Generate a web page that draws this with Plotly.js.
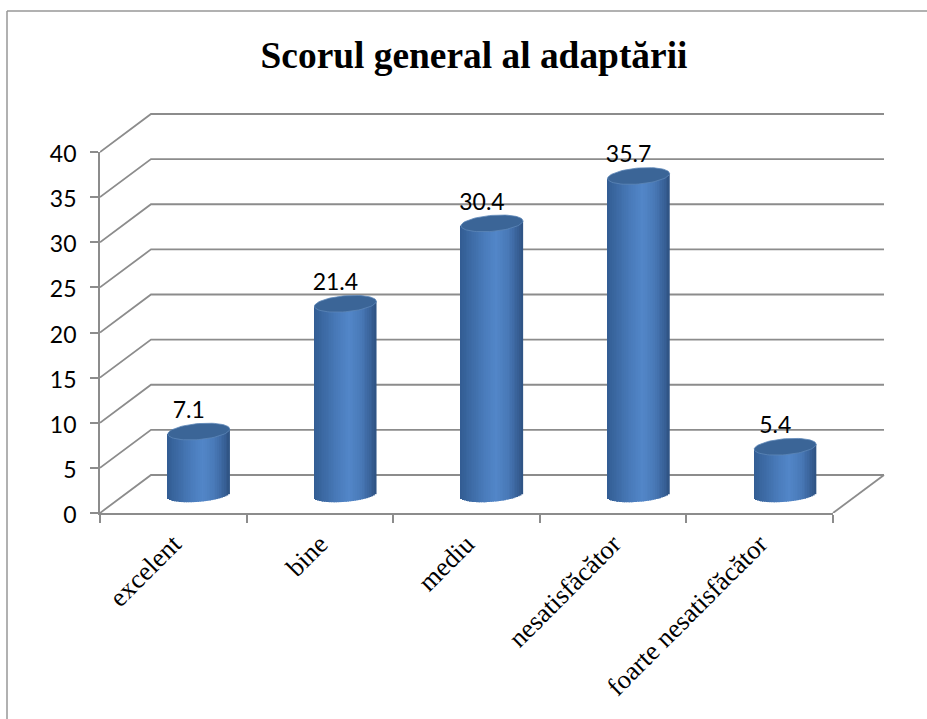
<!DOCTYPE html>
<html>
<head>
<meta charset="utf-8">
<script src="https://cdn.plot.ly/plotly-3.0.1.min.js"></script>
<style>html,body{margin:0;padding:0;background:#fff}#c{width:927px;height:719px}</style>
</head>
<body>
<div id="c"></div>
<script>
const categories = ["excelent", "bine", "mediu", "nesatisfăcător", "foarte nesatisfăcător"];
const values = [7.1, 21.4, 30.4, 35.7, 5.4];
const valueLabels = ["7.1", "21.4", "30.4", "35.7", "5.4"];
const yTicks = [0, 5, 10, 15, 20, 25, 30, 35, 40];
const xEdges = [0, 1, 2, 3, 4, 5];
const titleText = "Scorul general al adaptării";

// chart geometry
const W = 927, H = 719, L = 100, T = 113, R = 885, B = 513;
const frontRight = 833, frontTop = 152, depthX = 51, depthY = 38;
const pw = R - L, ph = B - T;
const uX = (frontRight - L) / 5, uY = (B - frontTop) / 40;
const dX = depthX / uX, dY = depthY / uY;
const hw = 31 / uX;
const tilt = 2.5 / uY, eb = 8 / uY, floorY = 18 / uY, heightScale = 0.99;
const N = 36;
const gridColor = "#8c8c8c";

const stops = [[-1, [50, 92, 146]], [-0.75, [58, 103, 160]], [-0.2, [74, 124, 188]], [0.15, [82, 134, 200]], [0.55, [72, 120, 182]], [0.85, [56, 96, 150]], [1, [46, 82, 130]]];
function shade(u) {
  for (let i = 1; i < stops.length; i++) {
    if (u <= stops[i][0]) {
      const a = stops[i - 1], b = stops[i], t = (u - a[0]) / (b[0] - a[0]);
      return "rgb(" + a[1].map((c, k) => Math.round(c + (b[1][k] - c) * t)).join(",") + ")";
    }
  }
  return "rgb(46,82,130)";
}

const barX = [], barBase = [], barY = [], barC = [];
values.forEach((v, i) => {
  const c = i + 0.5 + dX / 2;
  const top = floorY + v * heightScale;
  for (let k = 0; k < N; k++) {
    const u = -1 + (2 * k + 1) / N;
    const arc = Math.sqrt(1 - u * u);
    const lo = floorY + tilt * u - eb * 0.85 * arc;
    const hi = top + tilt * u;
    barX.push(c + u * hw);
    barBase.push(lo);
    barY.push(hi - lo);
    barC.push(shade(u));
  }
});

const traces = [];

// walls: back gridlines, side diagonals and floor edge, on a subplot drawn beneath the cylinders
const wx = [], wy = [];
yTicks.forEach(v => { wx.push(0, dX, 5 + dX, null); wy.push(v, v + dY, v + dY, null); });
wx.push(5, 5 + dX); wy.push(0, dY);
traces.push({x: wx, y: wy, xaxis: "x", yaxis: "y", mode: "lines", line: {color: gridColor, width: 1.8}, cliponaxis: false, hoverinfo: "skip", showlegend: false});

// cylinders
traces.push({type: "bar", x: barX, base: barBase, y: barY, width: 2 * hw / N * 1.15, xaxis: "x2", yaxis: "y2",
  marker: {color: barC, line: {width: 0}}, cliponaxis: false, hoverinfo: "skip", showlegend: false});

// cylinder caps
values.forEach((v, i) => {
  const c = i + 0.5 + dX / 2, top = floorY + v * heightScale;
  const ex = [], ey = [];
  for (let a = 0; a <= 72; a++) {
    const th = a / 72 * 2 * Math.PI, u = Math.cos(th);
    ex.push(c + u * hw);
    ey.push(top + tilt * u + eb * Math.sin(th));
  }
  traces.push({x: ex, y: ey, xaxis: "x2", yaxis: "y2", mode: "lines", fill: "toself", fillcolor: "#3b6597",
    line: {color: "#5d86b8", width: 0.8}, cliponaxis: false, hoverinfo: "skip", showlegend: false});
});

// data labels
traces.push({x: values.map((v, i) => i + 0.5 + dX / 2 - 10 / uX), y: values.map(v => floorY + v * heightScale + eb),
  text: valueLabels, mode: "text", textposition: "top center", textfont: {family: "Lato, Carlito, sans-serif", size: 23, color: "#000"},
  xaxis: "x2", yaxis: "y2", cliponaxis: false, hoverinfo: "skip", showlegend: false});

const px = x => (x - L) / pw, py = y => (B - y) / ph;
const layout = {
  width: W, height: H, autosize: false,
  margin: {l: L, r: W - R, t: T, b: H - B, pad: 0},
  paper_bgcolor: "#fff", plot_bgcolor: "rgba(0,0,0,0)",
  showlegend: false, barmode: "overlay",
  title: {text: "<b>" + titleText + "</b>", font: {family: "Liberation Serif, serif", size: 37.4, color: "#000"},
    x: 474 / W, xref: "container", xanchor: "center", y: 1 - 55 / H, yref: "container", yanchor: "middle"},
  xaxis: {domain: [0, 1], range: [0, pw / uX], showgrid: false, zeroline: false, showline: false, ticks: "", showticklabels: false, anchor: "y"},
  yaxis: {domain: [0, 1], range: [0, ph / uY], showgrid: false, zeroline: false, showline: false, ticks: "", showticklabels: false, anchor: "x"},
  xaxis2: {domain: [0, (frontRight - L) / pw], range: [0, 5], anchor: "y2", showgrid: false, zeroline: false,
    showline: true, linecolor: gridColor, linewidth: 1.8,
    tickmode: "array", tickvals: categories.map((c, i) => i + 0.5), ticktext: categories, ticks: "", tickangle: -45,
    ticklabelstandoff: 3,
    tickfont: {family: "Liberation Serif, serif", size: 26.5, color: "#000"},
    minor: {tickmode: "array", tickvals: xEdges, ticks: "outside", ticklen: 8, tickcolor: gridColor, tickwidth: 1.8, showgrid: false}},
  yaxis2: {domain: [0, (B - frontTop) / ph], range: [0, 40], anchor: "x2", showgrid: false, zeroline: false,
    showline: true, linecolor: gridColor, linewidth: 1.8,
    tickmode: "array", tickvals: yTicks, ticks: "outside", ticklen: 8, tickcolor: gridColor, tickwidth: 1.8,
    ticklabelstandoff: 9, ticklabelshift: 2,
    tickfont: {family: "Lato, Carlito, sans-serif", size: 23, color: "#000"}},
  shapes: [
    {type: "line", xref: "paper", yref: "paper", x0: px(7), x1: px(927), y0: py(11), y1: py(11), line: {color: "#979797", width: 1.5}},
    {type: "line", xref: "paper", yref: "paper", x0: px(7), x1: px(7), y0: py(11), y1: py(719), line: {color: "#979797", width: 1.5}}
  ]
};
Plotly.newPlot("c", traces, layout, {displayModeBar: false, responsive: false});
</script>
</body>
</html>
